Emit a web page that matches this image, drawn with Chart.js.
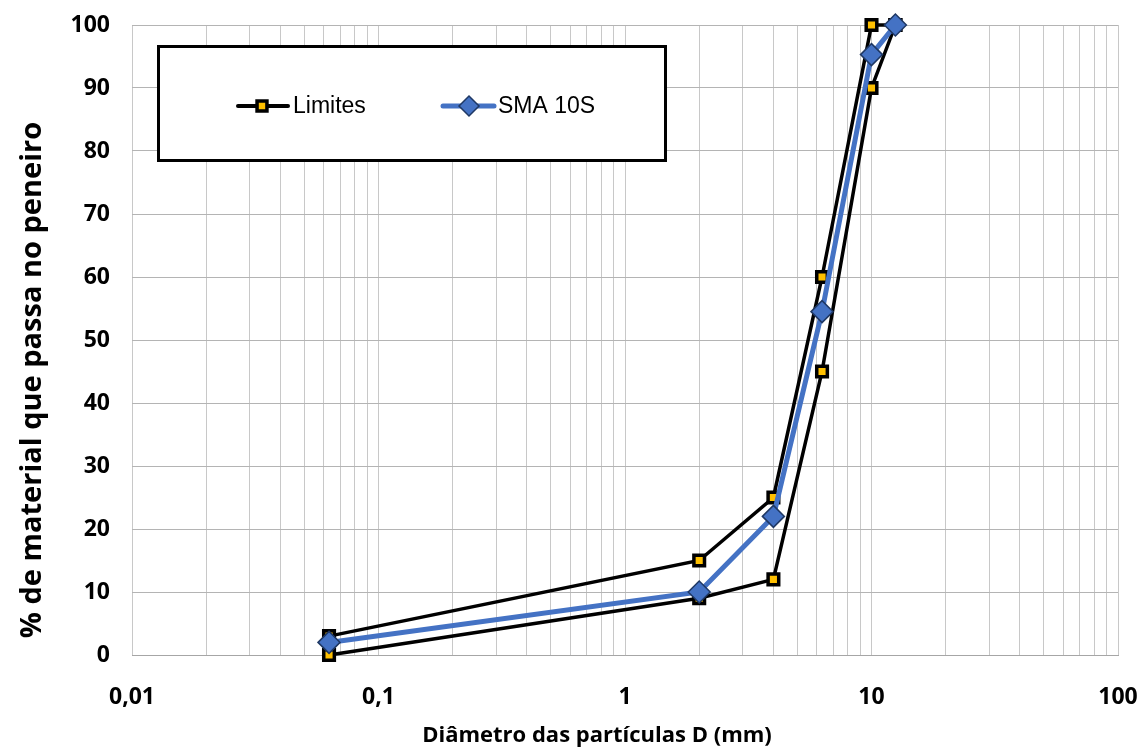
<!DOCTYPE html>
<html>
<head>
<meta charset="utf-8">
<script src="https://cdn.jsdelivr.net/npm/chart.js@4/dist/chart.umd.min.js"></script>
<style>
  html, body { margin: 0; padding: 0; background: #fff; }
  #wrap { width: 1142px; height: 751px; position: relative; }
</style>
</head>
<body>
<div id="wrap"><canvas id="myChart"></canvas></div>
<script>
// Diâmetros dos peneiros (mm)
const diametros = [0.063, 2, 4, 6.3, 10, 12.5];
// Fuso granulométrico
const limiteSuperior = [3, 15, 25, 60, 100, 100];
const limiteInferior = [0, 9, 12, 45, 90, 100];
// Curva da mistura
const sma10S = [2, 10, 22, 54.5, 95.3, 100];

// Eixo x : décadas e rótulos
const xTicks = [0.01, 0.1, 1, 10, 100];
const xTickLabels = ['0,01', '0,1', '1', '10', '100'];

const FONT = "'Open Sans', 'DejaVu Sans', sans-serif";

function pontos(valores) {
    return diametros.map((d, i) => ({ x: d, y: valores[i] }));
}

// Traços menores entre as décadas (2..9)
function ticksLog() {
    const t = [];
    for (let e = -2; e < 2; e++) {
        for (let m = 1; m <= 9; m++) t.push(+(m * Math.pow(10, e)).toPrecision(3));
    }
    t.push(100);
    return t;
}

const limiteStyle = {
    borderColor: '#000',
    borderWidth: 3.5,
    pointStyle: 'rect',
    pointRadius: 7.5,
    pointBorderWidth: 3.5,
    pointBackgroundColor: '#ffc000',
    pointBorderColor: '#000',
    showLine: true,
    tension: 0,
    clip: false
};

// Legenda dentro de uma caixa + títulos dos eixos
const decoracao = {
    id: 'decoracao',
    afterDraw(chart) {
        const ctx = chart.ctx;
        ctx.save();
        // caixa da legenda
        ctx.fillStyle = '#fff';
        ctx.fillRect(157, 45, 510, 117);
        ctx.lineWidth = 3;
        ctx.strokeStyle = '#000';
        ctx.strokeRect(158.5, 46.5, 507, 114);

        const y = 106;
        // Limites
        ctx.lineCap = 'round';
        ctx.beginPath();
        ctx.moveTo(238, y); ctx.lineTo(288, y);
        ctx.lineWidth = 4; ctx.strokeStyle = '#000'; ctx.stroke();
        ctx.fillStyle = '#ffc000';
        ctx.lineWidth = 3.5;
        Chart.helpers.drawPoint(ctx, { pointStyle: 'rect', radius: 7, borderWidth: 3.5, rotation: 0 }, 262, y);
        // SMA 10S
        ctx.beginPath();
        ctx.moveTo(443, y); ctx.lineTo(494, y);
        ctx.lineWidth = 5; ctx.strokeStyle = '#4472c4'; ctx.stroke();
        ctx.fillStyle = '#4472c4';
        ctx.strokeStyle = '#1f3864';
        ctx.lineWidth = 1.5;
        Chart.helpers.drawPoint(ctx, { pointStyle: 'rectRot', radius: 10, borderWidth: 1.5, rotation: 0 }, 469, y);

        ctx.fillStyle = '#000';
        ctx.font = "23px 'Liberation Sans', Arial, sans-serif";
        ctx.textBaseline = 'middle';
        ctx.textAlign = 'left';
        ctx.fillText('Limites', 293, y + 1);
        ctx.fillText('SMA 10S', 498, y + 1);

        // títulos dos eixos
        ctx.font = 'bold 22px ' + FONT;
        ctx.textAlign = 'center';
        ctx.fillText('Diâmetro das partículas D (mm)', 597, 736);
        ctx.translate(33, 380);
        ctx.rotate(-Math.PI / 2);
        ctx.font = 'bold 29px ' + FONT;
        ctx.fillText('% de material que passa no peneiro', 0, 0);
        ctx.restore();
    }
};

const ctx = document.getElementById('myChart').getContext('2d');
const myChart = new Chart(ctx, {
    type: 'scatter',
    data: {
        datasets: [
            {
                label: 'SMA 10S',
                data: pontos(sma10S),
                borderColor: '#4472c4',
                borderWidth: 5,
                pointStyle: 'rectRot',
                pointRadius: 11,
                pointBorderWidth: 1.5,
                pointBackgroundColor: '#4472c4',
                pointBorderColor: '#1f3864',
                showLine: true,
                tension: 0,
                clip: false,
                order: 0
            },
            Object.assign({ label: 'Limites', data: pontos(limiteSuperior), order: 1 }, limiteStyle),
            Object.assign({ label: 'Limites (inf.)', data: pontos(limiteInferior), order: 2 }, limiteStyle)
        ]
    },
    options: {
        responsive: true,
        maintainAspectRatio: false,
        animation: false,
        layout: { autoPadding: false, padding: { top: 25, right: 24, left: 0, bottom: 0 } },
        scales: {
            x: {
                type: 'logarithmic',
                min: 0.01,
                max: 100,
                afterBuildTicks: (scale) => {
                    scale.ticks = ticksLog().map(v => ({ value: v }));
                },
                afterFit: (scale) => {
                    scale.height = 96;
                    scale.paddingLeft = 0;
                    scale.paddingRight = 0;
                },
                ticks: {
                    autoSkip: false,
                    maxRotation: 0,
                    padding: 29,
                    color: '#000',
                    font: { family: FONT, size: 23, weight: 'bold' },
                    callback: (value) => {
                        const i = xTicks.findIndex(t => Math.abs(t - value) < t * 1e-6);
                        return i >= 0 ? xTickLabels[i] : '';
                    }
                },
                grid: { color: '#c8c8c8', lineWidth: 1, drawTicks: false },
                border: { color: '#a6a6a6', width: 1 }
            },
            y: {
                min: 0,
                max: 100,
                afterFit: (scale) => {
                    scale.width = 132;
                    scale.paddingTop = 0;
                    scale.paddingBottom = 0;
                },
                ticks: {
                    stepSize: 10,
                    padding: 22,
                    color: '#000',
                    font: { family: FONT, size: 23, weight: 'bold' }
                },
                grid: { color: '#b4b4b4', lineWidth: 1, drawTicks: false },
                border: { display: false }
            }
        },
        plugins: {
            legend: { display: false },
            tooltip: { enabled: false }
        }
    },
    plugins: [decoracao]
});
</script>
</body>
</html>
